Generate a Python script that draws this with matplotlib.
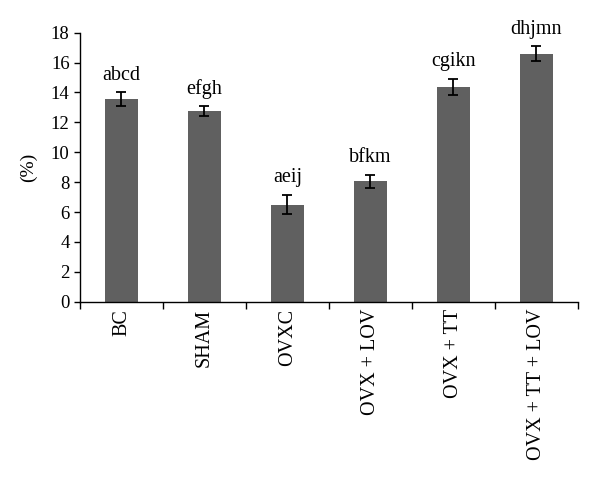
import matplotlib
matplotlib.use("Agg")
import matplotlib.pyplot as plt
import numpy as np

groups = ["BC", "SHAM", "OVXC", "OVX + LOV", "OVX + TT", "OVX + TT + LOV"]
means = [13.55, 12.75, 6.5, 8.05, 14.38, 16.6]
errs = [0.48, 0.33, 0.66, 0.44, 0.53, 0.49]
letters = ["abcd", "efgh", "aeij", "bfkm", "cgikn", "dhjmn"]

plt.rcParams['font.family'] = ['Liberation Serif', 'DejaVu Serif']

fig = plt.figure(figsize=(6.0, 4.79), dpi=100)
ax = fig.add_axes([0.1333, 0.3701, 0.83, 0.5616])

x = np.arange(len(groups))
ax.bar(x, means, width=0.4, color='#606060', zorder=2)
ax.errorbar(x, means, yerr=errs, fmt='none', ecolor='black', elinewidth=1.3,
            capsize=3.5, capthick=1.3, zorder=3)

for xi, m, e, lab in zip(x, means, errs, letters):
    ax.text(xi, m + e + 0.5, lab, ha='center', va='bottom', fontsize=14.5)

ax.set_xlim(-0.5, len(groups) - 0.5)
ax.set_ylim(0, 18)
ax.set_yticks(np.arange(0, 19, 2))
ax.tick_params(axis='y', labelsize=13.5, direction='out', length=4, width=1)

# boundary ticks on x, labels at centres
ax.set_xticks(np.arange(-0.5, len(groups), 1.0))
ax.set_xticklabels([])
ax.tick_params(axis='x', which='major', direction='out', length=5, width=1)
ax.set_xticks(x, minor=True)
ax.set_xticklabels(groups, minor=True, rotation=90, fontsize=14.5, va='top')
ax.tick_params(axis='x', which='minor', length=0, pad=5)

ax.spines['top'].set_visible(False)
ax.spines['right'].set_visible(False)
ax.spines['left'].set_linewidth(1)
ax.spines['bottom'].set_linewidth(1)

ax.set_ylabel("(%)", fontsize=14, labelpad=10)

fig.savefig("out.png", dpi=100)
